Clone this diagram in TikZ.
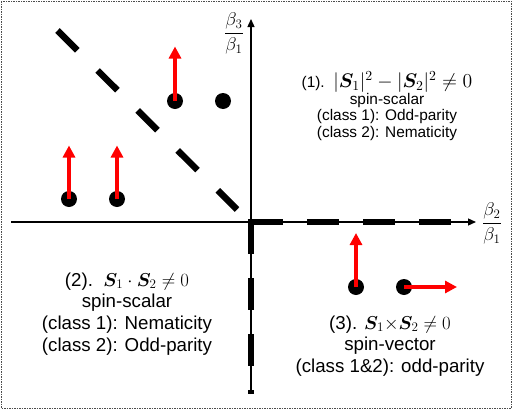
\RequirePackage{fix-cm}
\documentclass[tikz,border=0pt]{standalone}
\usepackage{amsmath}
\usepackage{bm}
\usepackage{graphicx}
\usepackage{fontspec}
\setmainfont{Liberation Sans}
\usetikzlibrary{arrows.meta}
\begin{document}
\begin{tikzpicture}[x=1pt,y=-1pt,
  frame/.style={draw=black!70, line width=1pt, dash pattern=on 1.5pt off 1pt},
  axis/.style={line width=1.3pt, -{Triangle[width=7pt,length=8pt]}},
  thickdash/.style={line width=6.5pt, dash pattern=on 32pt off 24pt},
  diagdash/.style={line width=6.5pt, dash pattern=on 28pt off 28.6pt},
  spin/.style={red, line width=4.5pt, -{Triangle[width=12pt,length=12pt]}},
  dot/.style={circle, fill=black, inner sep=0pt, minimum size=16pt},
  small/.style={align=center, font=\fontsize{15.4}{16.8}\selectfont},
  big/.style={align=center, font=\fontsize{18.7}{21.8}\selectfont},
  frac/.style={inner sep=0pt, font=\fontsize{18.5}{20}\selectfont}
]
\useasboundingbox (0,0) rectangle (523,410);
\draw[frame] (1,1) rectangle (511,408);

% axes
\coordinate (O) at (251,222);
\coordinate (ytop) at (251,19);
\coordinate (ybot) at (251,394);
\coordinate (xleft) at (11,222);
\coordinate (xright) at (476,222);
\draw[axis] (ybot) -- (ytop);
\draw[axis] (xleft) -- (xright);

% thick dashed boundaries
\coordinate (xend) at (451,222);
\draw[thickdash] (O) -- (ybot);
\draw[thickdash] (O) -- (xend);
\fill (247.75,218.75) rectangle (254.25,225.25);
\coordinate (d0) at (57.5,30.5);
\coordinate (d1) at (237,209.5);
\draw[diagdash] (d0) -- (d1);

% axis labels
\node[frac] (b3) at (234,33.5) {$\displaystyle\frac{\beta_3}{\beta_1}$};
\node[frac] (b2) at (492,223.5) {$\displaystyle\frac{\beta_2}{\beta_1}$};

% spins
\node[dot] (p1) at (175,101) {};
\node[dot] (p2) at (223,101) {};
\node[dot] (p3) at (69,199) {};
\node[dot] (p4) at (117,199) {};
\node[dot] (p5) at (356,287) {};
\node[dot] (p6) at (404,287) {};
\coordinate (t1) at (175,46.5);
\coordinate (t3) at (69,145.5);
\coordinate (t4) at (117,145.5);
\coordinate (t5) at (356,233);
\coordinate (t6) at (457,287);
\draw[spin] (p1.center) -- (t1);
\draw[spin] (p3.center) -- (t3);
\draw[spin] (p4.center) -- (t4);
\draw[spin] (p5.center) -- (t5);
\draw[spin] (p6.center) -- (t6);

% texts
\node[small] (q1) at (387,106) {(1).\ \ \scalebox{1.28}{$|\bm{S}_1|^2-|\bm{S}_2|^2\neq 0$}\\ spin-scalar\\ (class 1): Odd-parity\\ (class 2): Nematicity};
\node[big] (q2) at (127,314) {(2).\ \ $\bm{S}_1\cdot\bm{S}_2\neq 0$\\ spin-scalar\\ (class 1): Nematicity\\ (class 2): Odd-parity};
\node[big] (q3) at (390,346) {(3). $\bm{S}_1{\times}\bm{S}_2\neq 0$\\ spin-vector\\ (class 1\&2): odd-parity};
\end{tikzpicture}
\end{document}
